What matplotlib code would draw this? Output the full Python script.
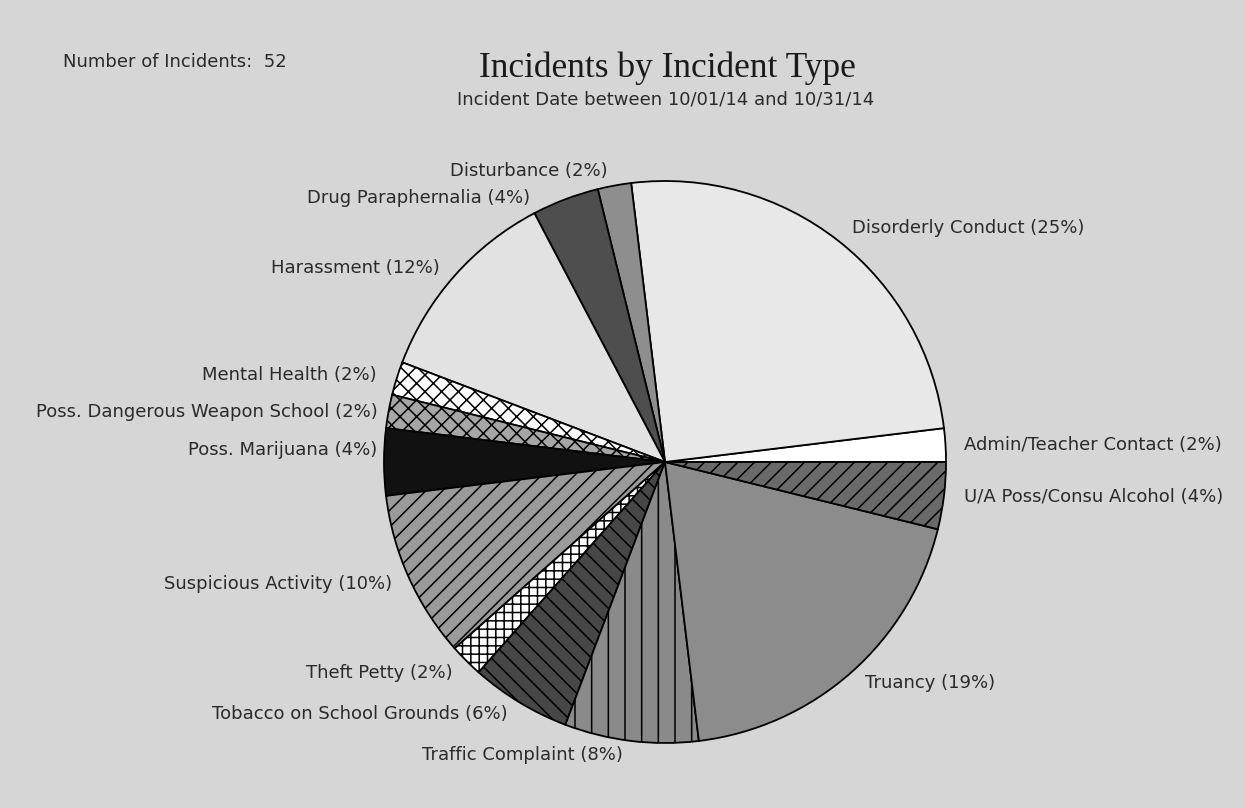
import numpy as np
import matplotlib
matplotlib.use("Agg")
import matplotlib.pyplot as plt

total_incidents = 52
incident_types = ["Admin/Teacher Contact", "Disorderly Conduct", "Disturbance",
                  "Drug Paraphernalia", "Harassment", "Mental Health",
                  "Poss. Dangerous Weapon School", "Poss. Marijuana",
                  "Suspicious Activity", "Theft Petty", "Tobacco on School Grounds",
                  "Traffic Complaint", "Truancy", "U/A Poss/Consu Alcohol"]
counts = [1, 13, 1, 2, 6, 1, 1, 2, 5, 1, 3, 4, 10, 2]

# styling per slice
fills = ["#ffffff", "#e8e8e8", "#8e8e8e", "#4e4e4e", "#e2e2e2", "#ffffff",
         "#a6a6a6", "#111111", "#9a9a9a", "#ffffff", "#474747", "#8a8a8a",
         "#8c8c8c", "#6a6a6a"]
hatches = [None, None, None, None, None, "xx", "xx", None, "//", "++", "\\\\",
           "|", None, "//"]
# label offsets in pixels (dx, dy) from slice edge midpoint, plus alignment
offsets = [(19, 0), (14, 13), (-7, 15), (-35, 1), (-15, 8), (-20, 3),
           (-11, -1), (-7, 12), (-17, -7), (-14, -12), (-12, -12), (-8, -14),
           (14, -11), (20, -1)]
aligns = ["left", "left", "right", "right", "right", "right", "right", "right",
          "right", "right", "right", "right", "left", "left"]

bg = "#d6d6d6"
label_font = "DejaVu Sans"
plt.rcParams["hatch.linewidth"] = 1.1

fig = plt.figure(figsize=(12.45, 8.08), dpi=100, facecolor=bg)
ax = fig.add_axes([384 / 1245, 65 / 808, 562 / 1245, 562 / 808])
ax.set_facecolor(bg)

wedges, _ = ax.pie(counts, startangle=0, counterclock=True, colors=fills,
                   radius=1.0,
                   wedgeprops=dict(edgecolor="black", linewidth=1.3))
for w, h in zip(wedges, hatches):
    if h:
        w.set_hatch(h)

ax.set_xlim(-1, 1)
ax.set_ylim(-1, 1)
ax.set_aspect("equal")
ax.axis("off")

for w, name, c, off, ha in zip(wedges, incident_types, counts, offsets, aligns):
    mid = np.deg2rad((w.theta1 + w.theta2) / 2)
    pct = round(100 * c / total_incidents)
    ax.annotate(f"{name} ({pct}%)", xy=(np.cos(mid), np.sin(mid)),
                xytext=off, textcoords="offset pixels", ha=ha, va="center",
                fontsize=13, family=label_font, color="#2a2a2a",
                annotation_clip=False)

fig.text(63 / 1245, 1 - 62 / 808, f"Number of Incidents:  {total_incidents}",
         ha="left", va="center", fontsize=13, family=label_font,
         color="#2a2a2a")
fig.text(667 / 1245, 1 - 68 / 808, "Incidents by Incident Type",
         ha="center", va="center", fontsize=25.5, family="Liberation Serif",
         color="#1a1a1a")
fig.text(666 / 1245, 1 - 100 / 808, "Incident Date between 10/01/14 and 10/31/14",
         ha="center", va="center", fontsize=13, family=label_font,
         color="#2a2a2a")

fig.savefig("out.png", dpi=100, facecolor=bg)
